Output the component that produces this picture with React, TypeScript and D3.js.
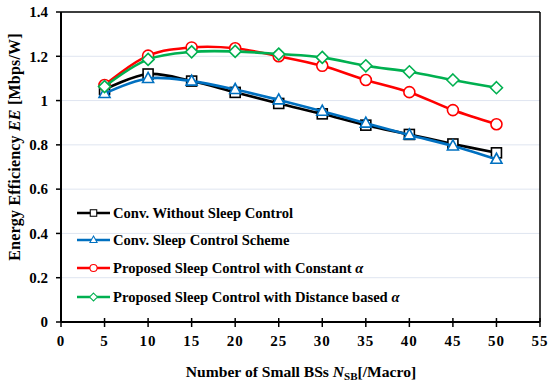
import * as d3 from "d3";

// data
const nsb = [5, 10, 15, 20, 25, 30, 35, 40, 45, 50];
const convNoSleep = [1.05, 1.12, 1.088, 1.037, 0.987, 0.94, 0.889, 0.847, 0.804, 0.764];
const convSleep = [1.032, 1.1, 1.088, 1.05, 1.003, 0.952, 0.898, 0.845, 0.795, 0.735];
const propConst = [1.07, 1.203, 1.24, 1.236, 1.2, 1.157, 1.093, 1.038, 0.957, 0.893];
const propDist = [1.063, 1.186, 1.22, 1.222, 1.21, 1.195, 1.157, 1.13, 1.093, 1.058];
const seriesNames = [
  "Conv. Without Sleep Control",
  "Conv. Sleep Control Scheme",
  "Proposed Sleep Control with Constant ",
  "Proposed Sleep Control with Distance based ",
];
const xTicks = [0, 5, 10, 15, 20, 25, 30, 35, 40, 45, 50, 55];
const yTicks = [0, 0.2, 0.4, 0.6, 0.8, 1, 1.2, 1.4];

const series = [
  { name: seriesNames[0], values: convNoSleep, color: "#000000", marker: "square", alpha: false },
  { name: seriesNames[1], values: convSleep, color: "#0070C0", marker: "triangle", alpha: false },
  { name: seriesNames[2], values: propConst, color: "#FF0000", marker: "circle", alpha: true },
  { name: seriesNames[3], values: propDist, color: "#00B050", marker: "diamond", alpha: true },
];

const font = "Liberation Serif, serif";

const Marker = ({ type, x, y, color }: { type: string; x: number; y: number; color: string }) => {
  const sw = 1.6;
  if (type === "square")
    return <rect x={x - 5} y={y - 5} width={10} height={10} fill="white" stroke={color} strokeWidth={sw} />;
  if (type === "circle") return <circle cx={x} cy={y} r={5.5} fill="white" stroke={color} strokeWidth={sw} />;
  if (type === "triangle")
    return (
      <path d={`M${x},${y - 6}L${x + 5.5},${y + 4}L${x - 5.5},${y + 4}Z`} fill="white" stroke={color} strokeWidth={sw} />
    );
  return (
    <path d={`M${x},${y - 6}L${x + 6},${y}L${x},${y + 6}L${x - 6},${y}Z`} fill="white" stroke={color} strokeWidth={sw} />
  );
};

export default function App() {
  const W = 549;
  const H = 383;
  const left = 61;
  const right = 540;
  const top = 12;
  const bottom = 322;

  const x = d3.scaleLinear().domain([0, 55]).range([left, right]);
  const y = d3.scaleLinear().domain([0, 1.4]).range([bottom, top]);

  const line = d3
    .line<number>()
    .x((_, i) => x(nsb[i]))
    .y((d) => y(d))
    .curve(d3.curveCatmullRom.alpha(0.5));

  const legendX = 77;
  const legendY = [213, 240, 268, 297];

  return (
    <svg width={W} height={H} style={{ position: "absolute", left: 0, top: 0, background: "white", fontFamily: font }}>
      {/* gridlines */}
      {yTicks.slice(1).map((t) => (
        <line key={t} x1={left} x2={right} y1={y(t)} y2={y(t)} stroke="#dfe5f0" strokeWidth={1} />
      ))}
      {/* frame */}
      <line x1={left} x2={right} y1={top} y2={top} stroke="#000" strokeWidth={1.5} />
      <line x1={right} x2={right} y1={top} y2={bottom} stroke="#000" strokeWidth={1.5} />
      <line x1={left} x2={left} y1={top} y2={bottom} stroke="#000" strokeWidth={2} />
      <line x1={left} x2={right} y1={bottom} y2={bottom} stroke="#000" strokeWidth={2} />

      {/* y ticks */}
      {yTicks.map((t) => (
        <g key={t}>
          <line x1={left - 5} x2={left} y1={y(t)} y2={y(t)} stroke="#000" strokeWidth={1.5} />
          <text x={left - 13} y={y(t)} dy="0.35em" textAnchor="end" fontSize={15} fontWeight="bold">
            {d3.format("~g")(t)}
          </text>
        </g>
      ))}
      {/* x ticks */}
      {xTicks.map((t) => (
        <g key={t}>
          <line x1={x(t)} x2={x(t)} y1={bottom - 4} y2={bottom + 5} stroke="#000" strokeWidth={1.5} />
          <text x={x(t)} y={bottom + 24} textAnchor="middle" fontSize={15} fontWeight="bold" letterSpacing={1}>
            {t}
          </text>
        </g>
      ))}

      {/* series */}
      {series.map((s) => (
        <g key={s.name}>
          <path d={line(s.values) ?? ""} fill="none" stroke={s.color} strokeWidth={2.6} />
          {s.values.map((v, i) => (
            <Marker key={i} type={s.marker} x={x(nsb[i])} y={y(v)} color={s.color} />
          ))}
        </g>
      ))}

      {/* legend */}
      {series.map((s, i) => (
        <g key={s.name}>
          <line x1={legendX} x2={legendX + 33} y1={legendY[i]} y2={legendY[i]} stroke={s.color} strokeWidth={2.6} />
          <g transform={`translate(${legendX + 16.5},${legendY[i]}) scale(0.65) translate(${-(legendX + 16.5)},${-legendY[i]})`}>
            <Marker type={s.marker} x={legendX + 16.5} y={legendY[i]} color={s.color} />
          </g>
          <text x={legendX + 36} y={legendY[i]} dy="0.35em" fontSize={14.6} fontWeight="bold">
            {s.name}
            {s.alpha && <tspan fontStyle="italic">α</tspan>}
          </text>
        </g>
      ))}

      {/* axis titles */}
      <text
        transform={`translate(20,147) rotate(-90)`}
        textAnchor="middle"
        fontSize={16}
        fontWeight="bold"
        letterSpacing={0.2}
      >
        Energy Efficiency <tspan fontStyle="italic">EE</tspan> [Mbps/W]
      </text>
      <text x={301} y={377} textAnchor="middle" fontSize={15.6} fontWeight="bold">
        Number of Small BSs <tspan fontStyle="italic">N</tspan>
        <tspan fontSize={11} dy={3}>SB</tspan>
        <tspan dy={-3}>[/Macro]</tspan>
      </text>
    </svg>
  );
}
